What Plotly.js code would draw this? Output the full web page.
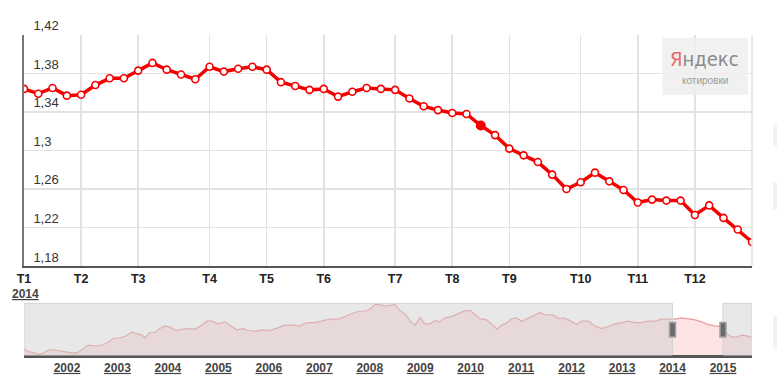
<!DOCTYPE html>
<html>
<head>
<meta charset="utf-8">
<script src="https://cdn.plot.ly/plotly-3.0.1.min.js"></script>
<style>
  html, body { margin: 0; padding: 0; background: #fff; }
  #chart { width: 777px; height: 392px; }
</style>
</head>
<body>
<div id="chart"></div>
<script>
// ---- Main chart data (weekly points of 2014) ----
const rateValues = [
  1.364, 1.359, 1.365, 1.357, 1.358, 1.368, 1.375, 1.375, 1.383, 1.391,
  1.384, 1.379, 1.374, 1.387, 1.382, 1.385, 1.387, 1.384, 1.371, 1.367,
  1.363, 1.364, 1.356, 1.361, 1.365, 1.364, 1.363, 1.354, 1.346, 1.342,
  1.339, 1.338, 1.326, 1.316, 1.302, 1.295, 1.288, 1.275, 1.260, 1.267,
  1.277, 1.268, 1.259, 1.246, 1.249, 1.248, 1.248, 1.233, 1.243, 1.230,
  1.218, 1.205
];
const monthTickIndex = [0, 4, 8, 13, 17, 21, 26, 30, 34, 39, 43, 47];
const monthLabels = ['T1','T2','T3','T4','T5','T6','T7','T8','T9','T10','T11','T12'];
const highlightIndex = 32;

const yTickVals = [1.18, 1.22, 1.26, 1.30, 1.34, 1.38, 1.42];
const yTickText = ['1,18', '1,22', '1,26', '1,3', '1,34', '1,38', '1,42'];

// ---- Navigator data (history) ----
const navYears = [
  2001.15, 2001.23, 2001.33, 2001.43, 2001.53, 2001.63, 2001.73, 2001.86, 2001.99, 2002.12,
  2002.22, 2002.32, 2002.42, 2002.52, 2002.65, 2002.79, 2002.92, 2003.05, 2003.18, 2003.28,
  2003.38, 2003.48, 2003.55, 2003.64, 2003.74, 2003.84, 2003.94, 2004.04, 2004.17, 2004.30,
  2004.44, 2004.54, 2004.67, 2004.77, 2004.87, 2005.00, 2005.13, 2005.23, 2005.36, 2005.49,
  2005.59, 2005.73, 2005.89, 2006.02, 2006.19, 2006.32, 2006.45, 2006.62, 2006.75, 2006.91,
  2007.08, 2007.21, 2007.38, 2007.51, 2007.64, 2007.77, 2007.91, 2008.00, 2008.10, 2008.20,
  2008.30, 2008.43, 2008.50, 2008.60, 2008.70, 2008.80, 2008.90, 2009.00, 2009.09, 2009.19,
  2009.29, 2009.39, 2009.49, 2009.62, 2009.75, 2009.89, 2009.99, 2010.09, 2010.18, 2010.32,
  2010.42, 2010.52, 2010.61, 2010.71, 2010.81, 2010.91, 2011.01, 2011.14, 2011.27, 2011.37,
  2011.47, 2011.64, 2011.74, 2011.84, 2011.97, 2012.10, 2012.20, 2012.33, 2012.46, 2012.60,
  2012.73, 2012.86, 2012.99, 2013.12, 2013.26, 2013.39, 2013.52, 2013.65, 2013.79, 2013.92,
  2014.05, 2014.18, 2014.31, 2014.45, 2014.58, 2014.71, 2014.84, 2014.97, 2015.07, 2015.17,
  2015.27, 2015.37, 2015.47, 2015.56
];
const navValues = [
  0.923, 0.884, 0.873, 0.844, 0.864, 0.909, 0.913, 0.894, 0.884, 0.864,
  0.873, 0.923, 0.982, 0.972, 0.972, 1.012, 1.079, 1.090, 1.119, 1.178,
  1.159, 1.129, 1.090, 1.168, 1.168, 1.226, 1.266, 1.247, 1.197, 1.218,
  1.226, 1.218, 1.276, 1.335, 1.335, 1.296, 1.325, 1.276, 1.207, 1.226,
  1.197, 1.188, 1.207, 1.197, 1.247, 1.276, 1.276, 1.266, 1.315, 1.315,
  1.344, 1.365, 1.365, 1.403, 1.443, 1.482, 1.482, 1.512, 1.579, 1.579,
  1.560, 1.579, 1.579, 1.491, 1.443, 1.335, 1.276, 1.394, 1.296, 1.296,
  1.344, 1.325, 1.384, 1.403, 1.443, 1.491, 1.491, 1.432, 1.374, 1.354,
  1.285, 1.218, 1.276, 1.306, 1.374, 1.384, 1.335, 1.384, 1.432, 1.462,
  1.432, 1.424, 1.374, 1.384, 1.344, 1.285, 1.335, 1.335, 1.266, 1.226,
  1.256, 1.296, 1.315, 1.335, 1.315, 1.315, 1.335, 1.335, 1.365, 1.365,
  1.365, 1.384, 1.374, 1.354, 1.325, 1.285, 1.266, 1.256, 1.159, 1.100,
  1.100, 1.129, 1.119, 1.100
];
const navTickYears = [2002, 2003, 2004, 2005, 2006, 2007, 2008, 2009, 2010, 2011, 2012, 2013, 2014, 2015];
const navRange = [2001.148, 2015.575];
const selectedStart = 2014;
const selectedEnd = 2015;
const selectedLabel = '2014';

const weekIndex = rateValues.map((_, i) => i);

const mainTrace = {
  x: weekIndex, y: rateValues, type: 'scatter', mode: 'lines+markers',
  xaxis: 'x', yaxis: 'y',
  line: { color: '#f50000', width: 3.5 },
  marker: { size: 7, color: '#ffffff', line: { color: '#f50000', width: 1.6 } },
  hoverinfo: 'skip'
};
const highlightTrace = {
  x: [weekIndex[highlightIndex]], y: [rateValues[highlightIndex]],
  type: 'scatter', mode: 'markers', xaxis: 'x', yaxis: 'y',
  marker: { size: 10, color: '#f50000' }, hoverinfo: 'skip'
};
const navTrace = {
  x: navYears, y: navValues, type: 'scatter', mode: 'lines',
  xaxis: 'x2', yaxis: 'y2', fill: 'tozeroy',
  fillcolor: 'rgba(252,218,218,0.75)',
  line: { color: 'rgba(232,140,140,0.85)', width: 1.2 },
  hoverinfo: 'skip'
};

const layout = {
  width: 777, height: 392,
  margin: { l: 24, r: 25, t: 35, b: 37 },
  paper_bgcolor: '#ffffff', plot_bgcolor: 'rgba(0,0,0,0)',
  showlegend: false,
  font: { family: 'Arial, "Liberation Sans", sans-serif', color: '#333' },
  xaxis: {
    domain: [0, 1], range: [0, rateValues.length - 1], anchor: 'y',
    tickmode: 'array', tickvals: monthTickIndex, ticktext: monthLabels,
    tickfont: { size: 12.5, color: '#222', weight: 'bold' },
    showgrid: true, gridcolor: '#e2e2e2', gridwidth: 1.5,
    showline: true, linecolor: '#555', linewidth: 2,
    ticks: '', zeroline: false, fixedrange: true
  },
  yaxis: {
    domain: [0.278, 1], range: [1.18, 1.42], anchor: 'x',
    tickmode: 'array', tickvals: yTickVals, ticktext: yTickText,
    ticklabelposition: 'inside top', ticklabeloverflow: 'allow',
    ticklabelstandoff: 8,
    tickfont: { size: 13, color: '#333' },
    showgrid: true, gridcolor: '#e2e2e2', gridwidth: 1.5,
    showline: true, linecolor: '#777', linewidth: 2,
    ticks: '', zeroline: false, fixedrange: true
  },
  xaxis2: {
    domain: [0, 1], range: navRange, anchor: 'y2',
    tickmode: 'array', tickvals: navTickYears,
    ticktext: navTickYears.map(String),
    tickfont: { size: 12, color: '#444', weight: 'bold', lineposition: 'under' },
    showgrid: false, showline: true, linecolor: '#555', linewidth: 2.5,
    ticks: '', zeroline: false, fixedrange: true
  },
  yaxis2: {
    domain: [0, 0.1616], range: [0.835, 1.6], anchor: 'x2',
    showgrid: false, showticklabels: false, showline: false,
    ticks: '', zeroline: false, fixedrange: true
  },
  shapes: [
    // right border of main plot
    { type: 'line', xref: 'x domain', yref: 'y domain', x0: 1, x1: 1, y0: 0, y1: 1,
      line: { color: '#e2e2e2', width: 1.5 } },
    // navigator unselected overlays
    { type: 'rect', xref: 'x2', yref: 'y2 domain', x0: navRange[0], x1: selectedStart, y0: 0, y1: 1,
      fillcolor: 'rgba(205,205,205,0.45)', line: { color: '#d4d4d4', width: 1 }, layer: 'above' },
    { type: 'rect', xref: 'x2', yref: 'y2 domain', x0: selectedEnd, x1: navRange[1], y0: 0, y1: 1,
      fillcolor: 'rgba(205,205,205,0.45)', line: { color: '#d4d4d4', width: 1 }, layer: 'above' },
    // handles
    { type: 'rect', xref: 'x2', yref: 'y2 domain', xsizemode: 'pixel', xanchor: selectedStart,
      x0: -3, x1: 3, y0: 0.35, y1: 0.63, fillcolor: '#6a6a6a', line: { color: '#a0a0a0', width: 1.5 }, layer: 'above' },
    { type: 'rect', xref: 'x2', yref: 'y2 domain', xsizemode: 'pixel', xanchor: selectedEnd,
      x0: -3, x1: 3, y0: 0.35, y1: 0.63, fillcolor: '#6a6a6a', line: { color: '#a0a0a0', width: 1.5 }, layer: 'above' },
    // Yandex logo box
    { type: 'rect', xref: 'paper', yref: 'paper', x0: 0.877, x1: 0.9945, y0: 0.8125, y1: 0.9916,
      fillcolor: 'rgba(238,238,238,0.85)', line: { width: 0 }, layer: 'above' },
    // cut-off controls at the right edge
    { type: 'rect', xref: 'paper', yref: 'paper', x0: 1.0288, x1: 1.05, y0: 0.65, y1: 0.72,
      fillcolor: '#f3f3f3', line: { width: 0 } },
    { type: 'rect', xref: 'paper', yref: 'paper', x0: 1.0288, x1: 1.05, y0: 0.453, y1: 0.54,
      fillcolor: '#f3f3f3', line: { width: 0 } },
    { type: 'rect', xref: 'paper', yref: 'paper', x0: 1.0288, x1: 1.05, y0: 0.02, y1: 0.122,
      fillcolor: '#f3f3f3', line: { width: 0 } }
  ],
  annotations: [
    { xref: 'paper', yref: 'paper', x: -0.0195, y: 0.19, xanchor: 'left', yanchor: 'middle',
      text: '<b><u>' + selectedLabel + '</u></b>', showarrow: false,
      font: { size: 12, color: '#444' } },
    { xref: 'paper', yref: 'paper', x: 0.935, y: 0.925, xanchor: 'center', yanchor: 'middle',
      text: '<span style="color:#ec6a6a">Я</span>ндекс', showarrow: false,
      font: { size: 20, color: '#8a8a8a', family: '"Liberation Sans Narrow", "Arial Narrow", "DejaVu Sans Condensed", sans-serif' } },
    { xref: 'paper', yref: 'paper', x: 0.935, y: 0.857, xanchor: 'center', yanchor: 'middle',
      text: 'котировки', showarrow: false,
      font: { size: 10, color: '#9a9a9a' } }
  ]
};

Plotly.newPlot('chart', [navTrace, mainTrace, highlightTrace], layout, { staticPlot: true, displayModeBar: false });
</script>
</body>
</html>
